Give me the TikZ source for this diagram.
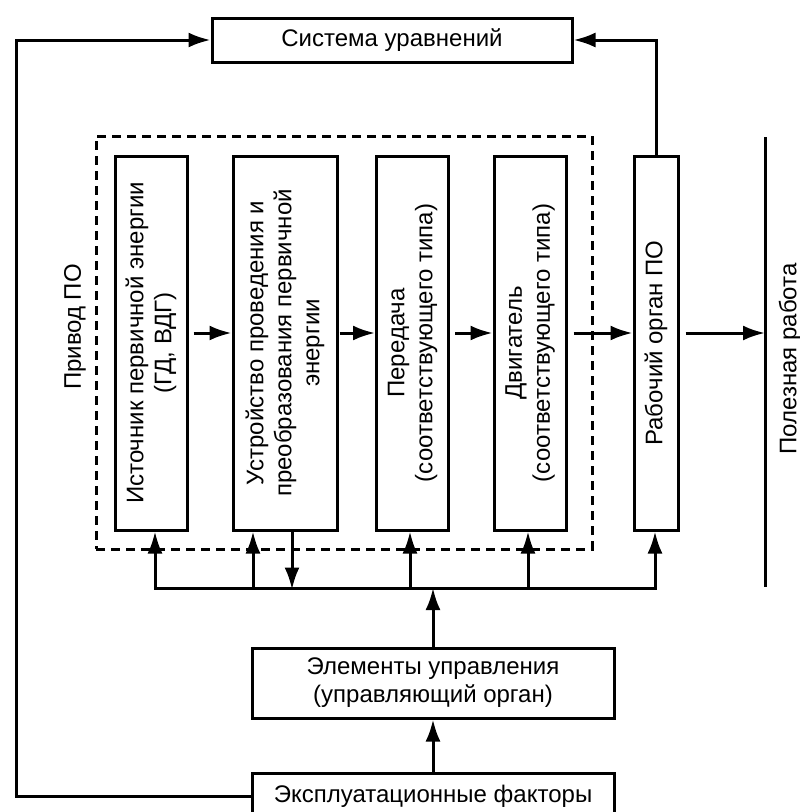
\documentclass[tikz,border=0pt]{standalone}
\usepackage{fontspec}
\setmainfont{Liberation Sans}
\usetikzlibrary{arrows.meta}

\begin{document}
\begin{tikzpicture}[x=1pt,y=-1pt,line width=3pt,
        blk/.style={draw,line width=3pt,inner sep=0pt,align=center,font=\fontsize{24}{28}\selectfont},
        vtxt/.style={rotate=90,align=center,inner sep=0pt,font=\fontsize{24}{28}\selectfont},
        arr/.style={-{Latex[length=22pt,width=15pt]}},
        drive/.style={draw,dash pattern=on 9pt off 6pt,line width=3pt,inner sep=0pt}]
        \useasboundingbox (0,0) rectangle (800,812);
        % system of equations on top
        \node[blk,minimum width=360,minimum height=44] (sys) at (392,40) {Система уравнений};
        % drive (dashed) and its blocks
        \node[drive,minimum width=496,minimum height=413] (drv) at (344,342.5) {};
        \node[vtxt] (drvlab) at (75,327) {Привод ПО};
        \node[blk,minimum width=72,minimum height=374] (b1) at (151,343) {};
        \node[blk,minimum width=104,minimum height=374] (b2) at (285,343) {};
        \node[blk,minimum width=72,minimum height=374] (b3) at (412.5,343) {};
        \node[blk,minimum width=72,minimum height=374] (b4) at (530,343) {};
        \node[blk,minimum width=44,minimum height=374] (b5) at (656,343) {};
        \node[vtxt] (t1) at (b1) {Источник первичной энергии\\(ГД, ВДГ)};
        \node[vtxt] (t2) at (b2) {Устройство проведения и\\преобразования первичной\\энергии};
        \node[vtxt] (t3) at (b3) {Передача\\(соответствующего типа)};
        \node[vtxt] (t4) at (b4) {Двигатель\\(соответствующего типа)};
        \node[vtxt] (t5) at (b5) {Рабочий орган ПО};
        % useful work
        \coordinate (wt) at (765,137);
        \coordinate (wb) at (765,587);
        \coordinate (wa) at (765,333);
        \draw (wt) -- (wb);
        \node[vtxt] (worklab) at (790,359) {Полезная работа};
        % control and operating factors
        \node[blk,minimum width=362,minimum height=70] (ctrl) at (433,683) {Элементы управления\\(управляющий орган)};
        \node[blk,minimum width=362,minimum height=46] (exp) at (433,796) {Эксплуатационные факторы};

        \foreach \a/\b/\g in {b1/b2/5,b2/b3/1,b3/b4/5,b4/b5/6}
            \draw[arr] ([shift={(\g,-10)}]\a.east) -- ([shift={(0,-10)}]\b.west);
        \draw[arr] ([shift={(6,-10)}]b5.east) -- (wa);
        \draw[arr] (b5.north) |- (sys.east);
        \coordinate (lc) at (16,40);
        \draw[arr] (exp.west) -| (lc) -- (sys.west);
        % bus under the blocks
        \coordinate (busL) at (155,588);
        \coordinate (busR) at (655,588);
        \draw[line cap=rect] (busL) -- (busR);
        \foreach \b/\dx in {b1/4,b2/-32,b3/-2.5,b4/-2,b5/-1}
            \draw[arr] ([shift={(\dx,58)}]\b.south) -- ([shift={(\dx,0)}]\b.south);
        \draw[arr] ([shift={(7,0)}]b2.south) -- ([shift={(7,58)}]b2.south);
        \draw[arr] (ctrl.north) -- (ctrl.north |- busL);
        \draw[arr] (exp.north) -- (ctrl.south);
\end{tikzpicture}
\end{document}
